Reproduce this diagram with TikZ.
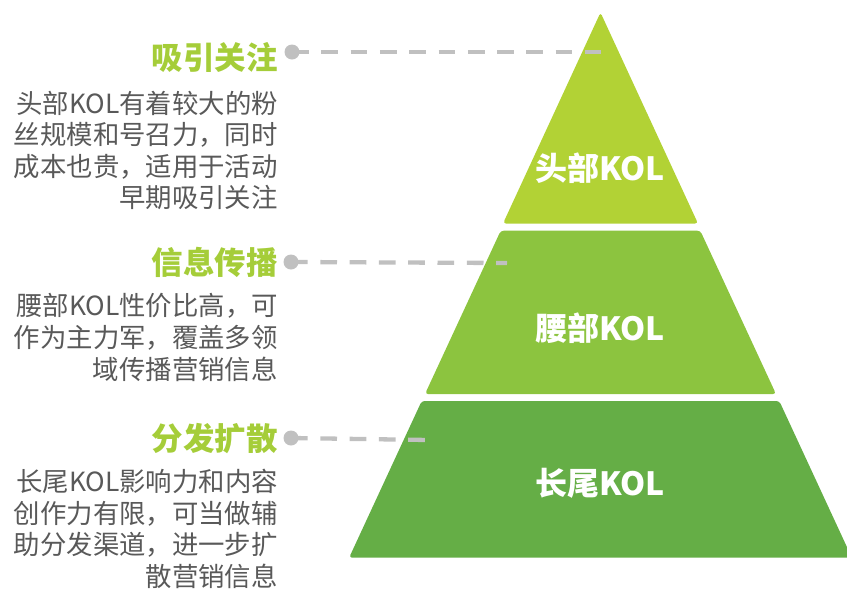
\documentclass[tikz,border=0pt]{standalone}
\usepackage{fontspec}
\setmainfont{Noto Sans CJK SC}
\usepackage[HTML]{xcolor}
\usetikzlibrary{positioning}
\definecolor{topgreen}{HTML}{B2D235}
\definecolor{midgreen}{HTML}{8CC43F}
\definecolor{lowgreen}{HTML}{65AE46}
\definecolor{headgreen}{HTML}{A5CD39}
\definecolor{bodygray}{HTML}{595959}
\definecolor{dotgray}{HTML}{C0C0C0}

\begin{document}
\begin{tikzpicture}[x=1pt, y=-1pt,
  layer/.style={rounded corners=3pt},
  tier/.style={text=white, font=\fontsize{32}{38}\selectfont\bfseries},
  heading/.style={anchor=east, inner sep=0pt, text=headgreen, font=\fontsize{31.5}{36}\selectfont\bfseries},
  desc/.style={anchor=north east, inner sep=0pt, align=right, text=bodygray, font=\fontsize{26.4}{31.6}\selectfont},
  bulletdot/.style={circle, fill=dotgray, minimum size=15pt, inner sep=0pt},
  leader/.style={dotgray, line width=4.3pt, dash pattern=on 16.7pt off 12.6pt}]
\useasboundingbox (0,0) rectangle (847,590);
\fill[topgreen, layer] (600.5,12.5) -- (698,223.5) -- (503,223.5) -- cycle;
\fill[midgreen, layer] (500.7,230.7) -- (700.3,230.7) -- (776,394) -- (425,394) -- cycle;
\fill[lowgreen, layer] (421.7,401) -- (779.3,401) -- (851.9,557.7) -- (349.1,557.7) -- cycle;
\node[tier] (T1) at (600,168) {头部KOL};
\node[tier] (T2) at (600,328) {腰部KOL};
\node[tier] (T3) at (600,483) {长尾KOL};
\node[heading] (H1) at (278,57.5) {吸引关注};
\node[heading] (H2) at (278,262) {信息传播};
\node[heading] (H3) at (278,439) {分发扩散};
\node[desc] (D1) at (278,90.5) {头部KOL有着较大的粉\\丝规模和号召力，同时\\成本也贵，适用于活动\\早期吸引关注};
\node[desc] (D2) at (278,293.5) {腰部KOL性价比高，可\\作为主力军，覆盖多领\\域传播营销信息};
\node[desc] (D3) at (278,469) {长尾KOL影响力和内容\\创作力有限，可当做辅\\助分发渠道，进一步扩\\散营销信息};
\node[bulletdot] (B1) at (292,52) {};
\node[bulletdot] (B2) at (291,262) {};
\node[bulletdot] (B3) at (291,438) {};
\coordinate (E1) at (601,52);
\coordinate (E2) at (507,263);
\coordinate (E3) at (429,440);
\draw[leader] (B1.center) -- (E1);
\draw[leader] (B2.center) -- (E2);
\draw[leader] (B3.center) -- (E3);
\end{tikzpicture}
\end{document}
